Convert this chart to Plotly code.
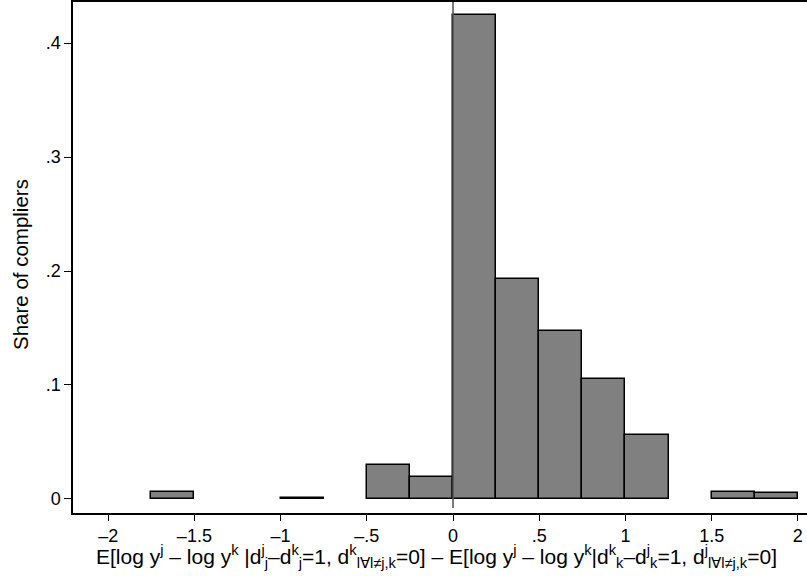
import plotly.graph_objects as go

bin_width = 0.25
bin_left = [-1.75, -1.0, -0.5, -0.25, 0.0, 0.25, 0.5, 0.75, 1.0, 1.5, 1.75]
share = [0.0065, 0.0012, 0.0298, 0.0196, 0.4246, 0.193, 0.1476, 0.1055, 0.056, 0.0065, 0.0052]

x_ticks = [-2, -1.5, -1, -0.5, 0, 0.5, 1, 1.5, 2]
x_ticklabels = ["–2", "–1.5", "–1", "–.5", "0", ".5", "1", "1.5", "2"]
y_ticks = [0, 0.1, 0.2, 0.3, 0.4]
y_ticklabels = ["0", ".1", ".2", ".3", ".4"]

x_title = ("E[log y<sup>j</sup> – log y<sup>k</sup> |d<sup>j</sup><sub>j</sub>–d<sup>k</sup><sub>j</sub>=1, "
           "d<sup>k</sup><sub>l∀l≠j,k</sub>=0] – E[log y<sup>j</sup> – log y<sup>k</sup>|"
           "d<sup>k</sup><sub>k</sub>–d<sup>j</sup><sub>k</sub>=1, d<sup>j</sup><sub>l∀l≠j,k</sub>=0]")
y_title = "Share of compliers"

centers = [b + bin_width / 2 for b in bin_left]

fig = go.Figure()
fig.add_trace(go.Bar(
    x=centers, y=share, width=bin_width,
    marker=dict(color="#808080", line=dict(color="black", width=1.5)),
    hoverinfo="skip",
))

fig.add_shape(type="line", x0=0, x1=0, xref="x", y0=0.01, y1=1, yref="paper",
              line=dict(color="#505050", width=1.5))

font_family = "Liberation Sans, Arial, sans-serif"
fig.update_layout(
    width=807, height=576,
    margin=dict(l=73, r=0, t=2, b=63),
    paper_bgcolor="white", plot_bgcolor="white",
    showlegend=False,
    font=dict(family=font_family, size=18, color="black"),
    bargap=0,
)
fig.add_annotation(text=x_title, xref="paper", yref="paper", x=0.4946, y=0,
                   xanchor="center", yanchor="top", yshift=-27, showarrow=False,
                   font=dict(size=21))
fig.add_annotation(text=y_title, xref="paper", yref="paper", x=0, y=0.4853,
                   xanchor="center", yanchor="middle", xshift=-53, textangle=-90,
                   showarrow=False, font=dict(size=20.5))
fig.update_xaxes(
    range=[-2.204, 2.053], tickvals=x_ticks, ticktext=x_ticklabels,
    showgrid=False, zeroline=False, showline=True, linecolor="black", linewidth=1.5,
    mirror=True, ticks="outside", ticklen=6, tickwidth=1, tickcolor="black",
    tickfont=dict(size=18), automargin=False,
)
fig.update_yaxes(
    range=[-0.0123, 0.436], tickvals=y_ticks, ticktext=y_ticklabels,
    showgrid=False, zeroline=False, showline=True, linecolor="black", linewidth=1.5,
    ticks="outside", ticklen=7, tickwidth=1, tickcolor="black",
    tickfont=dict(size=18), tickangle=0, automargin=False,
)

fig.write_html("out.html", config={"displayModeBar": False},
               post_script="document.body.style.margin='0px';")
